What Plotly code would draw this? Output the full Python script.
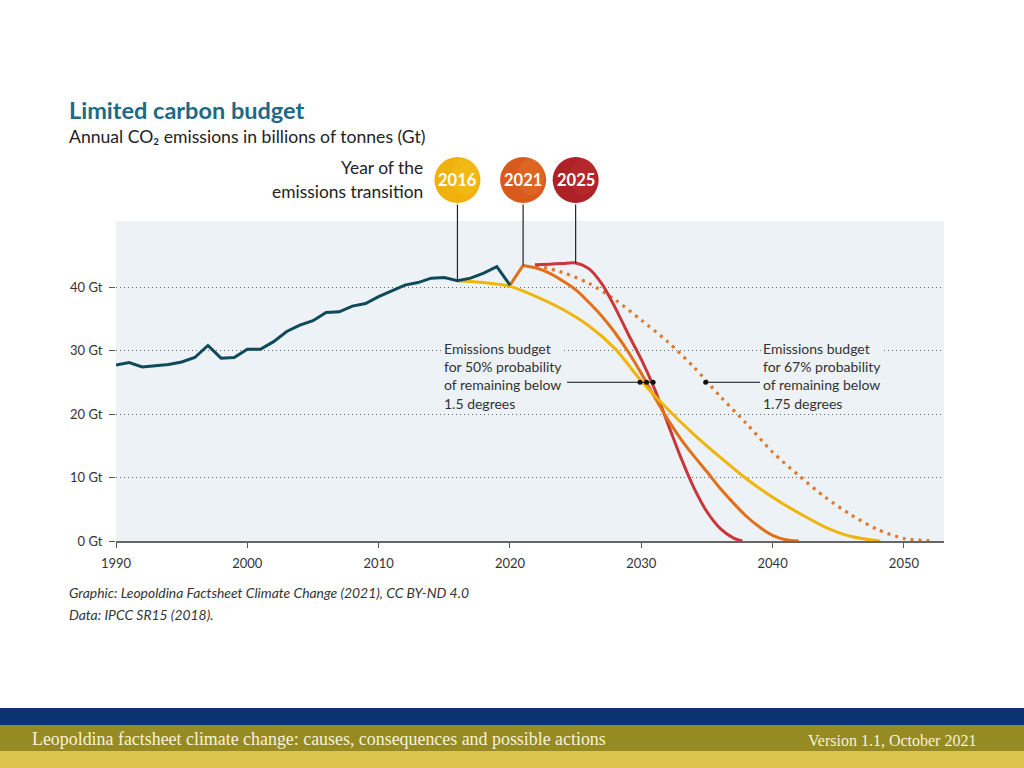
import plotly.graph_objects as go

# ---------------- data ----------------
hist_years = list(range(1990, 2021))
hist_values = [27.7, 28.1, 27.4, 27.6, 27.8, 28.2, 28.9, 30.8, 28.8, 28.9,
               30.2, 30.2, 31.4, 33.0, 34.0, 34.7, 36.0, 36.1, 37.0, 37.4,
               38.5, 39.4, 40.3, 40.7, 41.4, 41.5, 41.0, 41.4, 42.2, 43.2, 40.3]

# transition 2016 (50%, 1.5 degrees)
y2016_years = [2016, 2018, 2020, 2022, 2024, 2026, 2028, 2030, 2032, 2034,
               2036, 2038, 2040, 2042, 2044, 2046, 2048.2]
y2016_values = [41.0, 40.7, 40.1, 38.5, 36.5, 33.9, 30.3, 25.2, 20.8, 16.8,
                13.2, 9.8, 6.9, 4.4, 2.2, 0.7, 0.0]

# transition 2021 (50%, 1.5 degrees)
y2021_rise_years = [2020, 2021]
y2021_rise_values = [40.3, 43.4]
y2021_years = [2021, 2022, 2023, 2024, 2025, 2026, 2027, 2028, 2029, 2030,
               2031, 2032, 2033, 2034, 2035, 2036, 2037, 2038, 2039, 2040,
               2041, 2042]
y2021_values = [43.4, 43.0, 42.2, 41.0, 39.6, 37.6, 35.4, 32.8, 29.8, 26.4,
                22.7, 19.2, 16.1, 13.4, 10.9, 8.3, 6.0, 3.9, 2.2, 0.9,
                0.2, 0.0]

# transition 2025 (50%, 1.5 degrees)
y2025_years = [2021.9, 2023, 2024, 2025, 2026, 2027, 2028, 2029, 2030, 2031,
               2032, 2033, 2034, 2035, 2036, 2037, 2037.7]
y2025_values = [43.5, 43.6, 43.7, 43.8, 42.9, 40.5, 36.8, 32.6, 28.6, 24.0,
                18.6, 13.2, 8.4, 4.6, 2.0, 0.5, 0.0]

# transition 2021 (67%, 1.75 degrees) - dotted
y67_years = [2022, 2024, 2026, 2028, 2030, 2032, 2034, 2036, 2038, 2040,
             2042, 2044, 2046, 2048, 2050, 2052.2]
y67_values = [43.4, 42.3, 40.6, 38.0, 34.8, 31.4, 27.4, 22.8, 18.5, 14.0,
              10.3, 6.9, 4.1, 1.8, 0.4, 0.0]

transition_years = [2016, 2021, 2025]
transition_labels = ["2016", "2021", "2025"]
transition_start_values = [41.0, 43.4, 43.8]

budget50_marker_years = [2029.9, 2030.4, 2030.9]
budget67_marker_years = [2034.9]
budget_level = 25.0

y_tick_values = [0, 10, 20, 30, 40]
y_tick_labels = ["0 Gt", "10 Gt", "20 Gt", "30 Gt", "40 Gt"]
x_tick_values = [1990, 2000, 2010, 2020, 2030, 2040, 2050]

# ---------------- geometry / style ----------------
W, H = 1024, 768
L, R, T, B = 116, 944, 221, 541
x_range = [1990, 2053.05]
y_range = [0, 50.4]


def px_to_year(px):
    return x_range[0] + (px - L) * (x_range[1] - x_range[0]) / (R - L)


def py_to_val(py):
    return y_range[0] + (B - py) * (y_range[1] - y_range[0]) / (B - T)


def paper_x(px):
    return (px - L) / (R - L)


def paper_y(py):
    return (B - py) / (B - T)


PLOT_BG = "#edf2f6"
TEAL = "#0e4a5a"
YELLOW = "#f0b50a"
ORANGE = "#e0701a"
RED = "#c8373a"
DOT_ORANGE = "#e07a2a"
TXT = "#333333"
FONT = "Lato"
circle_fills = ["#f0b10c", "#da591d", "#ae2127"]
circle_light = ["#f7c62a", "#e57a2a", "#c23334"]

circle_bottom = py_to_val(203)

fig = go.Figure()

fig.add_trace(go.Scatter(x=y67_years, y=y67_values, mode="lines",
                         line=dict(color=DOT_ORANGE, width=3.2, dash="3px,5px", shape="spline", smoothing=0.8),
                         hoverinfo="skip"))
fig.add_trace(go.Scatter(x=y2025_years, y=y2025_values, mode="lines",
                         line=dict(color=RED, width=3, shape="spline", smoothing=0.8),
                         hoverinfo="skip"))
fig.add_trace(go.Scatter(x=y2021_rise_years, y=y2021_rise_values, mode="lines",
                         line=dict(color=ORANGE, width=3), hoverinfo="skip"))
fig.add_trace(go.Scatter(x=y2021_years, y=y2021_values, mode="lines",
                         line=dict(color=ORANGE, width=3, shape="spline", smoothing=0.8),
                         hoverinfo="skip"))
fig.add_trace(go.Scatter(x=y2016_years, y=y2016_values, mode="lines",
                         line=dict(color=YELLOW, width=3, shape="spline", smoothing=0.8),
                         hoverinfo="skip"))
fig.add_trace(go.Scatter(x=hist_years, y=hist_values, mode="lines",
                         line=dict(color=TEAL, width=3), hoverinfo="skip"))

# budget connector lines
fig.add_trace(go.Scatter(x=[px_to_year(567), budget50_marker_years[-1]],
                         y=[budget_level, budget_level], mode="lines",
                         line=dict(color="#111111", width=1.2), hoverinfo="skip"))
fig.add_trace(go.Scatter(x=[budget67_marker_years[0], px_to_year(760)],
                         y=[budget_level, budget_level], mode="lines",
                         line=dict(color="#111111", width=1.2), hoverinfo="skip"))
fig.add_trace(go.Scatter(x=budget50_marker_years + budget67_marker_years,
                         y=[budget_level] * 4, mode="markers",
                         marker=dict(color="#111111", size=5), hoverinfo="skip"))

annotations = []
shapes = []

# transition circles (drawn above the plot area)
for yr, lab, fc, lc in zip(transition_years, transition_labels, circle_fills, circle_light):
    shapes.append(dict(type="circle", xref="x", yref="paper", xsizemode="pixel", ysizemode="pixel",
                       xanchor=yr, yanchor=paper_y(180), x0=-23, x1=23, y0=-23, y1=23,
                       fillcolor=fc, line=dict(width=0), layer="above"))
    shapes.append(dict(type="circle", xref="x", yref="paper", xsizemode="pixel", ysizemode="pixel",
                       xanchor=yr, yanchor=paper_y(180), x0=-6, x1=21, y0=-15, y1=21,
                       fillcolor=lc, opacity=0.35, line=dict(width=0), layer="above"))
    annotations.append(dict(x=yr, y=paper_y(180), xref="x", yref="paper", showarrow=False,
                            xanchor="center", yanchor="middle", text="<b>" + lab + "</b>",
                            font=dict(family=FONT, size=16.5, color="white")))

for yr, v in zip(transition_years, transition_start_values):
    annotations.append(dict(x=yr, y=v, xref="x", yref="y", ax=yr, ay=circle_bottom,
                            axref="x", ayref="y", text="", showarrow=True,
                            arrowhead=0, arrowwidth=1.2, arrowcolor="#222222", standoff=0,
                            startstandoff=0))

budget_font = dict(family=FONT, size=14, color=TXT)
annotations.append(dict(x=paper_x(442), y=paper_y(338), xref="paper", yref="paper",
                        xanchor="left", yanchor="top", align="left", showarrow=False,
                        text="Emissions budget<br>for 50% probability<br>of remaining below<br>1.5 degrees",
                        font=budget_font, bgcolor=PLOT_BG, borderpad=1))
annotations.append(dict(x=paper_x(761), y=paper_y(338), xref="paper", yref="paper",
                        xanchor="left", yanchor="top", align="left", showarrow=False,
                        text="Emissions budget<br>for 67% probability<br>of remaining below<br>1.75 degrees",
                        font=budget_font, bgcolor=PLOT_BG, borderpad=1))

# titles and notes
annotations.append(dict(x=paper_x(67), y=paper_y(110), xref="paper", yref="paper",
                        xanchor="left", yanchor="middle", showarrow=False,
                        text="<b>Limited carbon budget</b>",
                        font=dict(family=FONT, size=23.5, color="#1b6a86")))
annotations.append(dict(x=paper_x(67), y=paper_y(136), xref="paper", yref="paper",
                        xanchor="left", yanchor="middle", showarrow=False,
                        text="Annual CO₂ emissions in billions of tonnes (Gt)",
                        font=dict(family=FONT, size=17.6, color="#222222")))
annotations.append(dict(x=paper_x(425), y=paper_y(167), xref="paper", yref="paper",
                        xanchor="right", yanchor="middle", showarrow=False,
                        text="Year of the", font=dict(family=FONT, size=17.4, color="#222222")))
annotations.append(dict(x=paper_x(425), y=paper_y(191), xref="paper", yref="paper",
                        xanchor="right", yanchor="middle", showarrow=False,
                        text="emissions transition", font=dict(family=FONT, size=17.4, color="#222222")))
annotations.append(dict(x=paper_x(67), y=paper_y(592), xref="paper", yref="paper",
                        xanchor="left", yanchor="middle", showarrow=False,
                        text="<i>Graphic: Leopoldina Factsheet Climate Change (2021), CC BY-ND 4.0</i>",
                        font=dict(family=FONT, size=13.9, color=TXT)))
annotations.append(dict(x=paper_x(67), y=paper_y(614), xref="paper", yref="paper",
                        xanchor="left", yanchor="middle", showarrow=False,
                        text="<i>Data: IPCC SR15 (2018).</i>",
                        font=dict(family=FONT, size=13.9, color=TXT)))
annotations.append(dict(x=paper_x(30), y=paper_y(739), xref="paper", yref="paper",
                        xanchor="left", yanchor="middle", showarrow=False,
                        text="Leopoldina factsheet climate change: causes, consequences and possible actions",
                        font=dict(family="Liberation Serif", size=17.9, color="#f7f2dc")))
annotations.append(dict(x=paper_x(978), y=paper_y(740), xref="paper", yref="paper",
                        xanchor="right", yanchor="middle", showarrow=False,
                        text="Version 1.1, October 2021",
                        font=dict(family="Liberation Serif", size=16, color="#f7f2dc")))

shapes += [
    dict(type="rect", xref="paper", yref="paper", x0=paper_x(0), x1=paper_x(W),
         y0=paper_y(725), y1=paper_y(708), fillcolor="#0b3372", line=dict(width=0), layer="below"),
    dict(type="rect", xref="paper", yref="paper", x0=paper_x(0), x1=paper_x(W),
         y0=paper_y(751), y1=paper_y(725), fillcolor="#968a22", line=dict(width=0), layer="below"),
    dict(type="rect", xref="paper", yref="paper", x0=paper_x(0), x1=paper_x(W),
         y0=paper_y(768), y1=paper_y(751), fillcolor="#dcc44c", line=dict(width=0), layer="below"),
]

fig.update_layout(
    width=W, height=H,
    margin=dict(l=L, r=W - R, t=T, b=H - B, pad=0),
    paper_bgcolor="white", plot_bgcolor=PLOT_BG,
    showlegend=False,
    annotations=annotations, shapes=shapes,
    font=dict(family=FONT, color=TXT),
)
fig.update_xaxes(range=x_range, tickvals=x_tick_values, ticks="outside", ticklen=5,
                 tickcolor="#555555", tickwidth=1, showgrid=False, zeroline=False,
                 showline=True, linecolor="#666666", linewidth=2,
                 tickfont=dict(family=FONT, size=13, color=TXT), ticklabelstandoff=4)
fig.update_yaxes(range=y_range, tickvals=y_tick_values, ticktext=y_tick_labels,
                 ticks="outside", ticklen=6, tickcolor="#555555", tickwidth=1,
                 showgrid=True, gridcolor="#666666", gridwidth=1, griddash="1px,3px",
                 zeroline=False, showline=False,
                 tickfont=dict(family=FONT, size=13, color=TXT), ticklabelstandoff=4)

fig.write_html("out.html", config={"displayModeBar": False},
               post_script="document.body.style.margin='0';document.body.style.overflow='hidden';")
